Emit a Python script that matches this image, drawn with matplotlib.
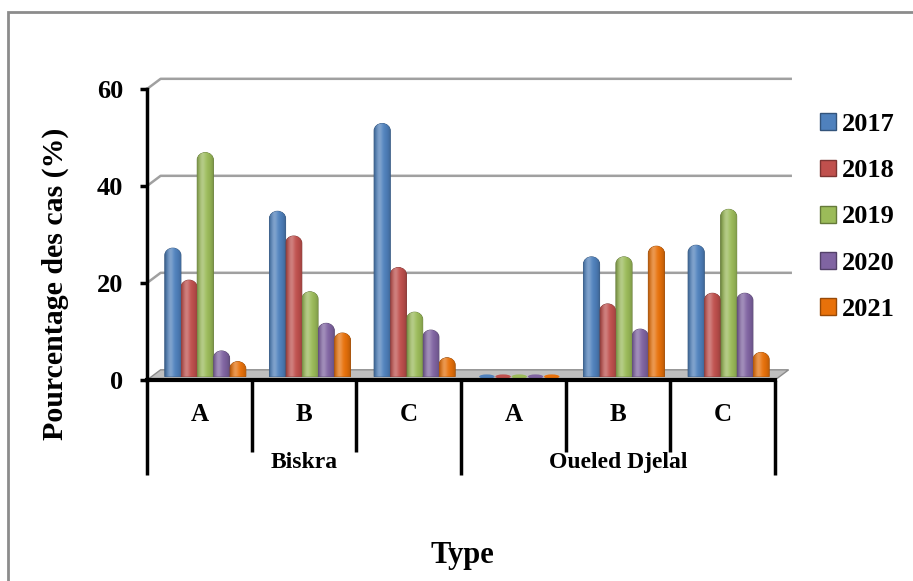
import numpy as np
import matplotlib
matplotlib.use("Agg")
import matplotlib.pyplot as plt
import matplotlib.colors as mcolors
from matplotlib.path import Path
from matplotlib.patches import PathPatch, Polygon, Rectangle, Ellipse, Patch

plt.rcParams['font.family'] = ['Liberation Serif', 'DejaVu Serif']
plt.rcParams['font.weight'] = 'bold'

# ---------------- data ----------------
categories = ['A', 'B', 'C', 'A', 'B', 'C']
regions = ['Biskra', 'Oueled Djelal']
years = ['2017', '2018', '2019', '2020', '2021']
v2017 = [26.5, 34.1, 52.2, 0.0, 24.7, 27.1]
v2018 = [19.9, 29.0, 22.5, 0.0, 15.0, 17.2]
v2019 = [46.2, 17.5, 13.3, 0.0, 24.7, 34.5]
v2020 = [5.3, 11.0, 9.6, 0.0, 9.8, 17.2]
v2021 = [3.1, 9.0, 3.9, 0.0, 26.9, 5.0]
series = [v2017, v2018, v2019, v2020, v2021]
colors = ['#4F81BD', '#C0504D', '#9BBB59', '#8064A2', '#E8710A']
yticks = [0, 20, 40, 60]
ylabel = 'Pourcentage des cas (%)'
xlabel = 'Type'

# ---------------- figure ----------------
W, H = 913, 581
fig = plt.figure(figsize=(W / 100, H / 100), dpi=100)
fig.patch.set_facecolor('white')
ax = fig.add_axes([147 / W, 201 / H, 628 / W, 291 / H])
ax.patch.set_visible(False)

n = len(categories)
DX, DY = 0.13, 2.1          # depth offset of the back wall (data units)
BAR_W = 0.155
SHIFT = 0.057
BASE = 0.7                  # bars stand in the middle of the floor depth


def shade(base, n=96):
    r, g, b = mcolors.to_rgb(base)
    t = np.linspace(0, 1, n)
    dark = 0.68 + 0.32 * np.sin(np.pi * t) ** 0.5
    hl = 0.28 * np.exp(-((t - 0.32) / 0.2) ** 2)
    arr = np.zeros((1, n, 4))
    for k, c in enumerate((r, g, b)):
        v = c * dark
        arr[0, :, k] = np.clip(v + (1 - v) * hl, 0, 1)
    arr[0, :, 3] = 1
    return arr


def rounded_top(x0, x1, y0, y1, ry):
    xc = (x0 + x1) / 2
    rx = (x1 - x0) / 2
    k = 0.5523
    ry = min(ry, max(y1 - y0, 1e-6))
    verts = [(x0, y0), (x0, y1 - ry),
             (x0, y1 - ry + k * ry), (xc - k * rx, y1), (xc, y1),
             (xc + k * rx, y1), (x1, y1 - ry + k * ry), (x1, y1 - ry),
             (x1, y0), (x0, y0)]
    codes = [Path.MOVETO, Path.LINETO,
             Path.CURVE4, Path.CURVE4, Path.CURVE4,
             Path.CURVE4, Path.CURVE4, Path.CURVE4,
             Path.LINETO, Path.CLOSEPOLY]
    return Path(verts, codes)


# floor
floor = Polygon([(0, 0), (n, 0), (n + DX, DY), (DX, DY)], closed=True,
                facecolor='#bfbfbf', edgecolor='#8c8c8c', lw=1.0,
                zorder=1, clip_on=False)
ax.add_patch(floor)

# back-wall gridlines
for y in yticks[1:]:
    ax.plot([0, DX, n + DX + 0.02], [y, y + DY, y + DY], color='#a0a0a0',
            lw=1.8, clip_on=False, zorder=0.5)

# bars
for j, vals in enumerate(series):
    x = np.arange(n) + 0.5 + SHIFT + (j - 2) * BAR_W
    bars = ax.bar(x, vals, width=BAR_W, bottom=BASE, color=colors[j])
    edge = tuple(np.array(mcolors.to_rgb(colors[j])) * 0.65)
    for rect in bars:
        rect.set_visible(False)
        x0 = rect.get_x()
        x1 = x0 + rect.get_width()
        y0 = rect.get_y()
        h = rect.get_height()
        if h <= 0:
            disc = Ellipse(((x0 + x1) / 2, y0), width=rect.get_width() * 0.95,
                           height=0.9, facecolor=colors[j], edgecolor='none',
                           zorder=3)
            ax.add_patch(disc)
            continue
        p = PathPatch(rounded_top(x0, x1, y0, y0 + h, 1.5),
                      facecolor=colors[j], edgecolor=edge, lw=0.6, zorder=3)
        ax.add_patch(p)
        img = ax.imshow(shade(colors[j]), extent=(x0, x1, y0, y0 + h),
                        aspect='auto', origin='lower', zorder=3.1,
                        interpolation='bilinear')
        img.set_clip_path(p)

ax.set_xlim(0, n)
ax.set_ylim(0, 60)

# axes styling
for s in ['top', 'right']:
    ax.spines[s].set_visible(False)
ax.spines['left'].set_linewidth(2.5)
ax.spines['bottom'].set_linewidth(3)
ax.spines['left'].set_zorder(4)
ax.spines['bottom'].set_zorder(4)
ax.set_yticks(yticks)
ax.set_yticklabels([str(v) for v in yticks])
ax.tick_params(axis='y', direction='out', length=5, width=2.5, pad=12,
               labelsize=19)
ax.set_xticks([])

# category axis (two levels)
xt = ax.get_xaxis_transform()
for i in range(n + 1):
    low = -0.326 if i % 3 == 0 else -0.247
    ax.plot([i, i], [0, low], transform=xt, color='black', lw=2.5,
            clip_on=False, solid_capstyle='butt')
for i, c in enumerate(categories):
    ax.text(i + 0.5, -0.12, c, transform=xt, ha='center', va='center',
            fontsize=18, fontweight='bold')
for r, name in enumerate(regions):
    ax.text(r * 3 + 1.5, -0.285, name, transform=xt, ha='center',
            va='center', fontsize=17, fontweight='bold')

fig.text(55 / W, 1 - 284 / H, ylabel, rotation=90, ha='center',
         va='center', fontsize=21.5, fontweight='bold')
fig.text(462 / W, 1 - 556 / H, xlabel, ha='center', va='center',
         fontsize=22, fontweight='bold')

# legend
handles = [Patch(facecolor=c, edgecolor=tuple(np.array(mcolors.to_rgb(c)) * 0.65))
           for c in colors]
fig.legend(handles, years, loc='upper left',
           bbox_to_anchor=(820 / W, 1 - 113 / H), frameon=False,
           prop={'family': 'Liberation Serif', 'weight': 'bold', 'size': 19},
           handlelength=0.6, handleheight=0.6, handletextpad=0.22,
           labelspacing=0.88, borderpad=0, borderaxespad=0)

# chart border
fig.add_artist(Rectangle((8 / W, -0.1), 1.0, 1.1 - 12 / H,
                         transform=fig.transFigure, fill=False,
                         edgecolor='#8c8c8c', lw=2))

fig.savefig('out.png', dpi=100, facecolor='white')
